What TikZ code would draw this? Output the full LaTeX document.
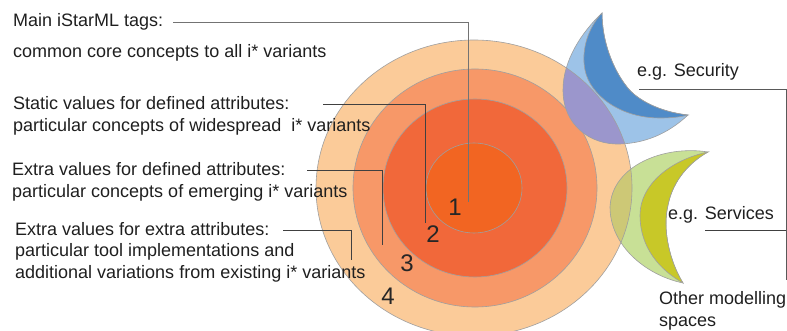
\documentclass[tikz,border=0pt]{standalone}
\usepackage{fontspec}
\setmainfont{Liberation Sans}
\begin{document}
\begin{tikzpicture}[x=1pt, y=-1pt, font=\fontsize{18}{21.5}\selectfont,
    ring/.style={draw=gray!75, line width=0.6pt},
    leader/.style={draw=black!75, line width=0.8pt},
    lbl/.style={anchor=west, inner sep=0pt, align=left, text=black!88},
    num/.style={inner sep=0pt, font=\fontsize{24}{24}\selectfont, text=black!85},
    bluecres/.style={insert path={(602,13) .. controls (582,32) and (563,60) .. (563,90)
        .. controls (563,125) and (590,145) .. (620,144) .. controls (650,143) and (672,130) .. (688,115)
        .. controls (660,112) and (637,100) .. (627,87) .. controls (612,68) and (602,40) .. (602,13) -- cycle}},
    darkcres/.style={insert path={(602,13) .. controls (588,28) and (581,50) .. (585,70)
        .. controls (590,95) and (620,118) .. (660,118) .. controls (672,118) and (680,117) .. (688,115)
        .. controls (660,112) and (637,100) .. (627,87) .. controls (612,68) and (602,40) .. (602,13) -- cycle}},
    greencres/.style={insert path={(708,152) .. controls (665,145) and (612,165) .. (610,207)
        .. controls (610,245) and (645,275) .. (683,283)
        .. controls (670,262) and (662,230) .. (668,205) .. controls (673,180) and (690,162) .. (708,152) -- cycle}},
    olivecres/.style={insert path={(708,152) .. controls (670,160) and (640,185) .. (640,215)
        .. controls (640,248) and (660,270) .. (683,283)
        .. controls (670,262) and (662,230) .. (668,205) .. controls (673,180) and (690,162) .. (708,152) -- cycle}},
    outerring/.style={insert path={(474,188) ellipse [x radius=158, y radius=148]}}]
  \definecolor{peach}{RGB}{251,203,153}
  \definecolor{salmon}{RGB}{247,152,104}
  \definecolor{redorange}{RGB}{241,104,58}
  \definecolor{coreorange}{RGB}{242,101,34}
  \definecolor{lightblue}{RGB}{157,195,232}
  \definecolor{darkblue}{RGB}{79,139,200}
  \definecolor{bluepurple}{RGB}{155,150,204}
  \definecolor{lightgreen}{RGB}{200,224,150}
  \definecolor{yellowgreen}{RGB}{200,200,40}
  \definecolor{olive}{RGB}{205,200,118}

  \useasboundingbox (0,0) rectangle (787,331);

  % concentric rings
  \path[ring, fill=peach, outerring];
  \path[ring, fill=salmon] (475,188) ellipse [x radius=122, y radius=119];
  \path[ring, fill=redorange] (475,188) ellipse [x radius=92, y radius=89];
  \path[ring, fill=coreorange] (474,188) ellipse [x radius=48, y radius=45];

  % security space
  \path[fill=lightblue, bluecres];
  \begin{scope}
    \clip[bluecres];
    \path[ring, fill=bluepurple, outerring];
  \end{scope}
  \path[ring, bluecres];
  \path[ring, fill=darkblue, darkcres];

  % services space
  \path[fill=lightgreen, greencres];
  \begin{scope}
    \clip[greencres];
    \path[ring, fill=olive, outerring];
  \end{scope}
  \path[ring, greencres];
  \path[ring, fill=yellowgreen, olivecres];

  % ring numbers
  \node[num] (n1) at (455,207) {1};
  \node[num] (n2) at (433,234) {2};
  \node[num] (n3) at (407,263) {3};
  \node[num] (n4) at (388,296) {4};

  % left labels
  \node[lbl] (main) at (13,22) {Main iStarML tags:};
  \node[lbl] (core) at (13,53) {common core concepts to all i* variants};
  \node[lbl] (static) at (13,116) {Static values for defined attributes:\\particular concepts of widespread\ \ i* variants};
  \node[lbl] (extradef) at (12,182) {Extra values for defined attributes:\\particular concepts of emerging i* variants};
  \node[lbl] (extraextra) at (15,252) {Extra values for extra attributes:\\particular tool implementations and\\additional variations from existing i* variants};

  % right labels
  \node[lbl] (security) at (637,72) {e.g. Security};
  \node[lbl] (services) at (668,215) {e.g. Services};
  \node[lbl] (other) at (659,311) {Other modelling\\spaces};

  % leader lines
  \coordinate (s1) at (173,22);  \coordinate (e1) at (468,202);
  \coordinate (s2) at (323,104); \coordinate (e2) at (425,223);
  \coordinate (s3) at (307,170); \coordinate (e3) at (382,245);
  \coordinate (s4) at (283,230); \coordinate (e4) at (351,260);
  \draw[leader, draw=black!55] (s1) -| (e1);
  \draw[leader] (s2) -| (e2);
  \draw[leader] (s3) -| (e3);
  \draw[leader] (s4) -| (e4);

  \coordinate (sec) at (639,89);  \coordinate (bend) at (786,89);
  \coordinate (bot) at (786,280); \coordinate (ser) at (705,230);
  \draw[leader, draw=black!65] (sec) -- (bend) -- (bot);
  \draw[leader] (ser) -- (ser -| bend);
\end{tikzpicture}
\end{document}
